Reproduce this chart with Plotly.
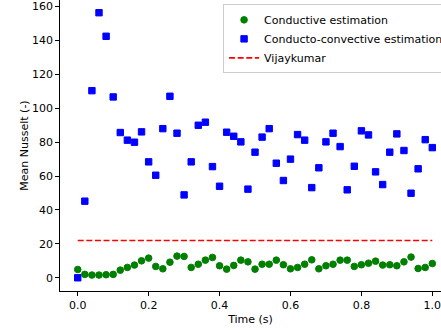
import plotly.graph_objects as go

time = [round(0.02 * i, 2) for i in range(51)]

conductive = [4.9, 2.0, 1.6, 1.6, 1.8, 2.0, 4.5, 6.1, 7.5, 10.0, 11.6, 6.7, 5.3, 9.2, 12.8, 12.6,
              6.1, 8.0, 10.4, 12.0, 7.1, 5.1, 7.3, 10.4, 9.4, 5.1, 8.0, 8.0, 10.4, 7.7, 5.3, 6.1,
              8.0, 10.6, 5.3, 7.1, 8.0, 10.4, 10.4, 6.7, 7.7, 8.6, 9.8, 7.5, 7.7, 7.1, 9.4, 12.2,
              5.5, 6.1, 8.4]

convective = [0.0, 45.2, 110.4, 156.4, 142.5, 106.7, 85.7, 81.2, 80.0, 86.1, 68.4, 60.5, 88.0,
              107.1, 85.3, 48.9, 68.4, 90.0, 91.8, 65.6, 54.0, 85.9, 83.5, 80.2, 52.3, 74.1, 83.0,
              88.0, 67.6, 57.4, 70.0, 84.5, 81.2, 53.2, 64.9, 80.2, 85.3, 77.4, 51.9, 65.8, 86.7,
              84.3, 62.5, 55.0, 74.1, 84.9, 75.1, 49.9, 64.3, 81.5, 76.8]

vijay_x = [0.0, 1.0]
vijay_y = [22.0, 22.0]

x_ticks = [0.0, 0.2, 0.4, 0.6, 0.8, 1.0]
y_ticks = [0, 20, 40, 60, 80, 100, 120, 140, 160]

FONT = "DejaVu Sans"

fig = go.Figure()
fig.add_trace(go.Scatter(
    x=time, y=conductive, mode="markers", name="Conductive estimation",
    marker=dict(symbol="circle", size=6.6, color="#008000", line=dict(width=1, color="#008000")),
))
fig.add_trace(go.Scatter(
    x=time, y=convective, mode="markers", name="Conducto-convective estimation",
    marker=dict(symbol="square", size=6.4, color="#0000ff", line=dict(width=1, color="#0000ff")),
))
fig.add_trace(go.Scatter(
    x=vijay_x, y=vijay_y, mode="lines", name="Vijaykumar",
    line=dict(color="#ff0000", width=1.67, dash="6px,2.6px"),
))

fig.update_layout(
    width=441, height=333,
    margin=dict(l=59.5, r=0, t=0, b=42, autoexpand=False),
    paper_bgcolor="white", plot_bgcolor="white",
    font=dict(family=FONT, size=11, color="black"),
    showlegend=True,
    legend=dict(
        x=0.428, y=0.985, xanchor="left", yanchor="top",
        bgcolor="rgba(255,255,255,0.8)", bordercolor="#cccccc", borderwidth=1,
        font=dict(family=FONT, size=11, color="black"),
        tracegroupgap=0, itemsizing="trace",
    ),
    xaxis=dict(
        range=[-0.05, 1.0245], tickmode="array", tickvals=x_ticks, tickformat=".1f",
        showgrid=False, zeroline=False, showline=True, mirror=True,
        linecolor="black", linewidth=0.9, ticks="outside", ticklen=3.9, tickwidth=0.9,
        tickcolor="black", ticklabeloverflow="allow",
        title=dict(text="Time (s)", font=dict(family=FONT, size=11), standoff=4),
    ),
    yaxis=dict(
        range=[-7.8, 163.9], tickmode="array", tickvals=y_ticks,
        showgrid=False, zeroline=False, showline=True, mirror=False,
        linecolor="black", linewidth=0.9, ticks="outside", ticklen=3.9, tickwidth=0.9,
        tickcolor="black", ticklabeloverflow="allow",
        title=dict(text="Mean Nusselt (-)", font=dict(family=FONT, size=11), standoff=1),
    ),
)

fig.write_html("out.html")
